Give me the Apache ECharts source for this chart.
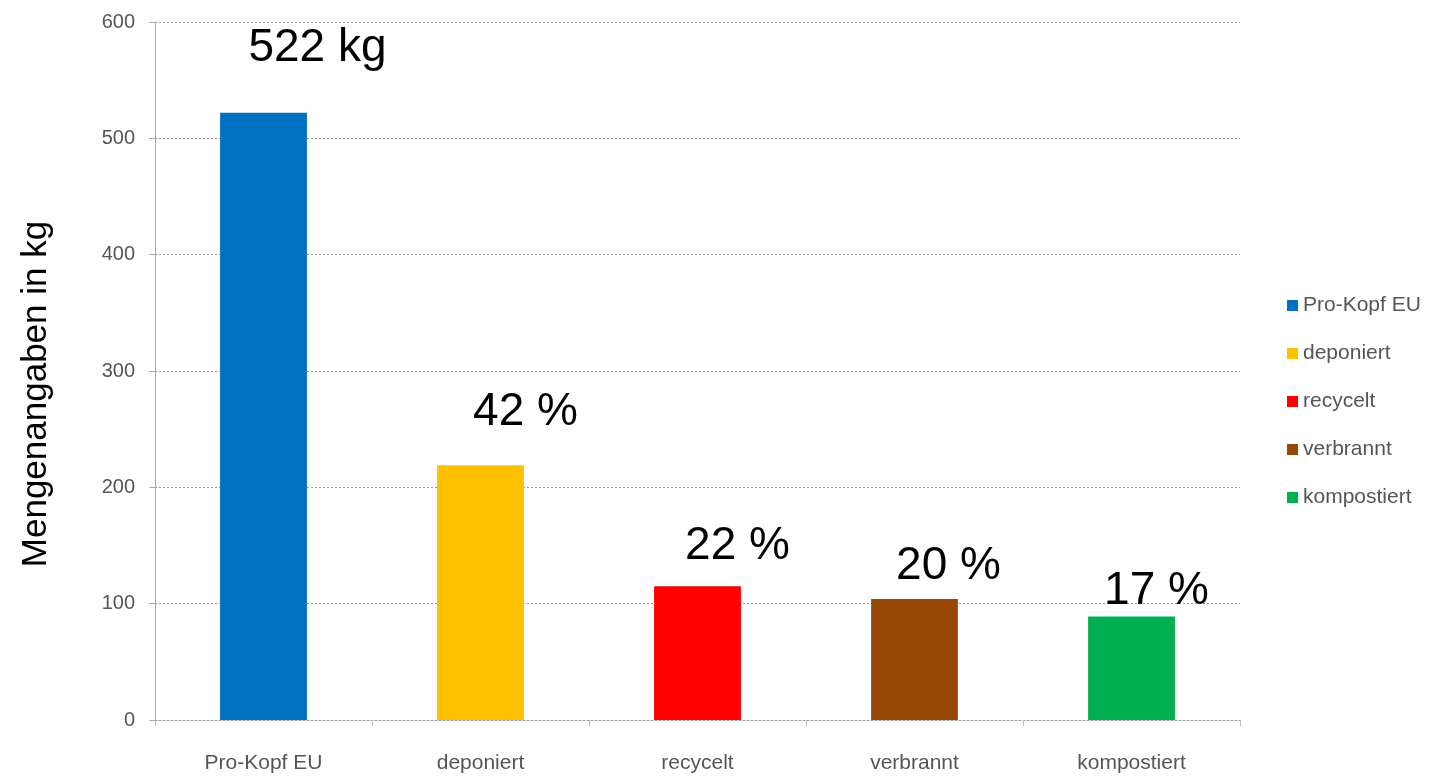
<!DOCTYPE html>
<html><head><meta charset="utf-8">
<script src="https://cdn.jsdelivr.net/npm/echarts@6/dist/echarts.min.js"></script>
<style>html,body{margin:0;padding:0;background:#fff}#c{width:1441px;height:776px}</style>
</head><body><div id="c"></div>
<script>
const categories = ['Pro-Kopf EU', 'deponiert', 'recycelt', 'verbrannt', 'kompostiert'];
const values = [522, 219, 115, 104, 89];
const valueLabels = ['522 kg', '42 %', '22 %', '20 %', '17 %'];
const yTicks = [0, 100, 200, 300, 400, 500, 600];

const colors = ['#0070C0', '#FFC000', '#FF0000', '#974706', '#00B050'];
const labelOffsets = [[54, -41], [45, -30], [40, -17], [34, -10], [25, -2]];

const series = categories.map((name, i) => ({
  name: name,
  type: 'bar',
  stack: 'all',
  barWidth: '40%',
  itemStyle: { color: colors[i] },
  label: {
    show: true, position: 'top', distance: 0,
    offset: labelOffsets[i],
    formatter: () => valueLabels[i],
    fontFamily: 'Liberation Sans, Arial', fontSize: 46, color: '#000'
  },
  data: categories.map((c, j) => j === i ? values[i] : '-')
}));

const chart = echarts.init(document.getElementById('c'));
chart.setOption({
  animation: false,
  textStyle: { fontFamily: 'Liberation Sans, Arial' },
  grid: { left: 155, right: 201, top: 22, bottom: 56, containLabel: false },
  legend: {
    orient: 'vertical', left: 1282, top: 290, itemGap: 27,
    itemWidth: 11, itemHeight: 11, icon: 'rect',
    textStyle: { fontSize: 21, color: '#555' },
    data: categories
  },
  xAxis: {
    type: 'category', data: categories,
    axisLine: { lineStyle: { color: '#999', type: [2, 2] } },
    axisTick: { show: true, length: 6, lineStyle: { color: '#bbb' } },
    axisLabel: { margin: 33, fontSize: 21, color: '#555' }
  },
  yAxis: {
    type: 'value', min: yTicks[0], max: yTicks[yTicks.length - 1], interval: 100,
    name: 'Mengenangaben in kg', nameLocation: 'middle', nameGap: 101,
    nameTextStyle: { fontSize: 35, color: '#000', padding: [0, 46, 0, 0] },
    axisLine: { show: true, lineStyle: { color: '#aaa' } },
    axisTick: { show: true, length: 6, lineStyle: { color: '#aaa' } },
    axisLabel: { margin: 20, fontSize: 20, color: '#555' },
    splitLine: { lineStyle: { color: '#999', type: [2, 2] } }
  },
  series: series
});
</script></body></html>
